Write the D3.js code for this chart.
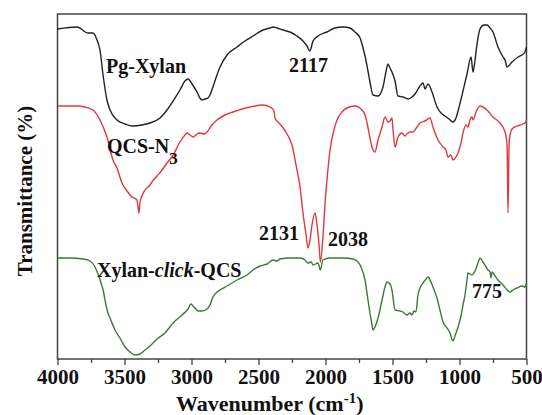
<!DOCTYPE html>
<html>
<head>
<meta charset="utf-8">
<script src="https://cdn.jsdelivr.net/npm/d3@7/dist/d3.min.js"></script>
<style>
  body { margin: 0; background: #fff; }
  svg text { font-family: "Liberation Serif", "Times New Roman", Times, serif; font-weight: bold; fill: #111; }
</style>
</head>
<body>
<svg id="chart" width="542" height="415"></svg>
<script>
// spectra: [wavenumber (cm-1), transmittance (a.u., stacked with offsets)]
const pgXylan = [
  [4000,330],[3854,332],[3772,326],[3735,326],[3705,319],[3683,309],[3660,284],[3631,259],
  [3608,249],[3556,239],[3496,235],[3437,233],[3370,234],[3310,236],[3235,241],[3183,249],
  [3123,261],[3086,269],[3049,278],[3026,280],[2996,275],[2959,267],[2937,261],[2922,259],
  [2900,260],[2877,261],[2862,264],[2840,272],[2810,284],[2787,292],[2735,304],[2660,312],
  [2601,318],[2541,323],[2466,329],[2414,331],[2392,332],[2362,331],[2317,329],[2265,327],
  [2213,323],[2168,318],[2138,313],[2117,308],[2093,318],[2056,323],[1989,327],[1929,331],
  [1869,332],[1817,331],[1780,327],[1742,321],[1720,311],[1705,303],[1683,288],[1668,277],
  [1645,264],[1608,263],[1571,272],[1549,287],[1534,295],[1519,291],[1504,287],[1481,278],
  [1459,263],[1422,262],[1384,260],[1354,262],[1332,265],[1295,273],[1272,276],[1257,270],
  [1235,275],[1205,267],[1168,252],[1138,246],[1108,243],[1078,240],[1049,237],[1026,241],
  [1011,248],[974,268],[944,285],[914,302],[899,287],[884,299],[869,315],[847,330],[817,334],
  [795,334],[772,331],[750,327],[713,312],[675,302],[660,299],[645,292],[608,297],[563,302],
  [534,304],[511,307],[500,312]
];

const qcsN3 = [
  [4000,253],[3854,253],[3795,252],[3735,249],[3683,239],[3631,222],[3586,199],[3556,191],
  [3519,176],[3481,168],[3444,162],[3407,159],[3399,152],[3392,146],[3384,157],[3370,163],
  [3347,169],[3310,174],[3295,177],[3257,183],[3220,189],[3183,196],[3146,202],[3086,217],
  [3049,224],[3034,226],[3011,224],[2989,222],[2959,225],[2937,226],[2907,225],[2884,227],
  [2847,234],[2810,239],[2750,244],[2690,247],[2563,252],[2466,254],[2414,252],[2384,248],
  [2377,241],[2362,238],[2340,235],[2287,225],[2250,214],[2220,194],[2190,172],[2168,146],
  [2145,124],[2131,111],[2116,119],[2101,134],[2078,146],[2063,134],[2048,114],[2038,97],
  [2019,122],[2004,154],[1989,179],[1966,209],[1937,229],[1914,239],[1877,247],[1840,251],
  [1780,253],[1728,249],[1705,244],[1690,236],[1668,221],[1653,212],[1631,207],[1608,219],
  [1578,232],[1556,242],[1534,237],[1519,238],[1504,241],[1496,229],[1481,212],[1459,222],
  [1429,226],[1407,223],[1392,225],[1370,227],[1347,227],[1317,232],[1295,236],[1257,238],
  [1220,241],[1198,232],[1160,219],[1123,212],[1101,209],[1086,202],[1064,204],[1049,199],
  [1026,202],[1011,206],[989,216],[974,226],[951,234],[937,232],[922,239],[907,242],[899,239],
  [877,247],[847,253],[795,249],[750,242],[698,236],[660,227],[645,214],[638,146],[630,214],
  [623,224],[601,231],[548,234],[504,237],[500,239]
];

const xylanClickQcs = [
  [4000,101],[3907,101],[3810,100],[3757,98],[3720,92],[3698,85],[3675,76],[3660,69],
  [3638,54],[3623,46],[3608,41],[3571,29],[3534,21],[3496,12],[3459,7],[3422,4],[3384,5],
  [3347,9],[3310,13],[3257,20],[3198,26],[3138,36],[3071,44],[3026,50],[3004,55],[2989,53],
  [2974,51],[2952,48],[2922,48],[2884,50],[2862,54],[2840,62],[2787,69],[2735,73],[2660,79],
  [2586,84],[2541,89],[2489,93],[2437,95],[2392,99],[2362,98],[2340,100],[2265,101],
  [2190,101],[2153,99],[2131,96],[2108,97],[2093,94],[2056,96],[2038,89],[2019,99],[1966,101],
  [1869,101],[1795,100],[1757,97],[1735,92],[1705,79],[1683,59],[1668,46],[1653,34],[1645,29],
  [1631,32],[1608,41],[1578,59],[1556,72],[1541,77],[1519,75],[1504,69],[1481,49],[1444,48],
  [1422,47],[1392,44],[1370,46],[1354,44],[1340,48],[1325,47],[1310,64],[1295,71],[1272,76],
  [1250,80],[1235,82],[1213,77],[1198,72],[1168,61],[1146,49],[1123,37],[1093,31],[1071,26],
  [1049,18],[1034,23],[1011,32],[989,43],[974,54],[959,64],[944,79],[937,86],[907,84],[884,88],
  [862,96],[847,101],[825,97],[802,92],[787,89],[772,87],[765,81],[757,87],[735,83],[713,79],
  [675,74],[645,69],[623,67],[601,69],[571,71],[534,73],[511,72],[500,76]
];

const majorTicks = [4000, 3500, 3000, 2500, 2000, 1500, 1000, 500];
const minorTicks = [3750, 3250, 2750, 2250, 1750, 1250, 750];

const svg = d3.select('#chart');
const plotLeft = 57.5, plotRight = 526.5, plotTop = 14, plotBottom = 359;
const serif = '"Liberation Serif", "Times New Roman", Times, serif';

const x = d3.scaleLinear().domain([4000, 500]).range([plotLeft, plotRight]);
const y = d3.scaleLinear().domain([0, 345]).range([plotBottom, plotTop]);

// frame
svg.append('rect')
  .attr('x', plotLeft).attr('y', plotTop)
  .attr('width', plotRight - plotLeft).attr('height', plotBottom - plotTop)
  .attr('fill', 'none').attr('stroke', '#444').attr('stroke-width', 1.5);

// bottom axis, major + minor ticks
const axisG = svg.append('g').attr('transform', `translate(0,${plotBottom})`);
axisG.call(d3.axisBottom(x).tickValues(majorTicks).tickFormat(d3.format('d'))
    .tickSize(6).tickSizeOuter(0).tickPadding(4))
  .call((g) => g.select('.domain').remove())
  .attr('font-family', serif);
axisG.selectAll('.tick line').attr('stroke', '#444').attr('stroke-width', 1.3);
axisG.selectAll('.tick text')
  .attr('font-size', 21)
  .attr('font-weight', 'bold')
  .attr('fill', '#111');

const minorG = svg.append('g').attr('transform', `translate(0,${plotBottom})`);
minorG.call(d3.axisBottom(x).tickValues(minorTicks).tickSize(4).tickFormat(''))
  .call((g) => g.select('.domain').remove());
minorG.selectAll('.tick line').attr('stroke', '#444').attr('stroke-width', 1.3);

// spectra
const line = d3.line()
  .x((d) => x(d[0]))
  .y((d) => y(d[1]))
  .curve(d3.curveMonotoneX);

[
  {data: pgXylan, color: '#222'},
  {data: qcsN3, color: '#e0383c'},
  {data: xylanClickQcs, color: '#3d7a35'},
].forEach((s) => {
  svg.append('path')
    .datum(s.data)
    .attr('fill', 'none')
    .attr('stroke', s.color)
    .attr('stroke-width', 1.4)
    .attr('stroke-linejoin', 'round')
    .attr('d', line);
});

// labels
const label = (tx, ty, text) => svg.append('text')
  .attr('x', tx).attr('y', ty).attr('font-size', 20).text(text);

label(106, 73, 'Pg-Xylan');
label(289, 72, '2117');
label(259, 240, '2131');
label(328, 246, '2038');
label(472, 298, '775');

const qcs = svg.append('text').attr('x', 107).attr('y', 153).attr('font-size', 20);
qcs.append('tspan').text('QCS-N');
qcs.append('tspan').attr('dy', 11).attr('font-size', 17).text('3');

const xc = svg.append('text').attr('x', 97).attr('y', 277).attr('font-size', 20);
xc.append('tspan').text('Xylan-');
xc.append('tspan').attr('font-style', 'italic').text('click');
xc.append('tspan').text('-QCS');

// axis titles
const xt = svg.append('text').attr('x', 176).attr('y', 411).attr('font-size', 22);
xt.append('tspan').text('Wavenumber (cm');
xt.append('tspan').attr('dy', -8).attr('font-size', 15).text('-1');
xt.append('tspan').attr('dy', 8).text(')');

svg.append('text')
  .attr('transform', 'translate(32,191) rotate(-90)')
  .attr('text-anchor', 'middle')
  .attr('font-size', 21)
  .text('Transmittance (%)');
</script>
</body>
</html>
